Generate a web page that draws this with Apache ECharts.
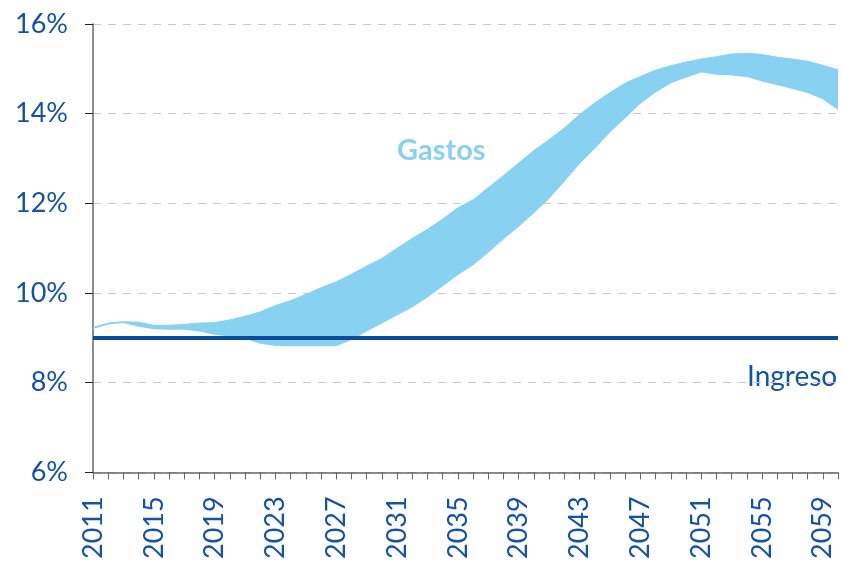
<!DOCTYPE html>
<html>
<head>
<meta charset="utf-8">
<script src="https://cdn.jsdelivr.net/npm/echarts@6/dist/echarts.min.js"></script>
<style>
  html, body { margin: 0; padding: 0; background: #fff; }
</style>
</head>
<body>
<div id="chart" style="width: 842px; height: 562px"></div>
<script>
// años 2011-2060
const years = ['2011','2012','2013','2014','2015','2016','2017','2018','2019','2020',
  '2021','2022','2023','2024','2025','2026','2027','2028','2029','2030',
  '2031','2032','2033','2034','2035','2036','2037','2038','2039','2040',
  '2041','2042','2043','2044','2045','2046','2047','2048','2049','2050',
  '2051','2052','2053','2054','2055','2056','2057','2058','2059','2060'];

// Gastos: límite inferior y superior de la banda (% del PIB)
const gastosMin = [9.20, 9.30, 9.33, 9.25, 9.19, 9.18, 9.18, 9.14, 9.07, 9.03,
  8.98, 8.87, 8.82, 8.81, 8.81, 8.81, 8.81, 8.95, 9.14, 9.32,
  9.50, 9.68, 9.90, 10.15, 10.40, 10.62, 10.90, 11.20, 11.48, 11.78,
  12.10, 12.48, 12.88, 13.22, 13.58, 13.90, 14.22, 14.47, 14.68, 14.80,
  14.92, 14.87, 14.85, 14.82, 14.72, 14.64, 14.55, 14.46, 14.32, 14.08];
const gastosMax = [9.23, 9.33, 9.36, 9.35, 9.28, 9.28, 9.30, 9.33, 9.34, 9.40,
  9.48, 9.58, 9.72, 9.83, 9.97, 10.12, 10.25, 10.42, 10.60, 10.77,
  11.00, 11.22, 11.42, 11.65, 11.90, 12.08, 12.35, 12.62, 12.90, 13.18,
  13.42, 13.68, 13.98, 14.24, 14.47, 14.68, 14.83, 14.97, 15.07, 15.15,
  15.22, 15.27, 15.33, 15.35, 15.32, 15.26, 15.22, 15.17, 15.08, 14.98];

// Ingreso constante
const ingreso = 9;

const yTicks = { min: 6, max: 16, interval: 2 };

const azul = '#1452a6';
const celeste = '#89d1f1';
const fuente = 'Lato';

let chart = echarts.init(document.getElementById('chart'));

chart.setOption({
  animation: false,
  grid: { left: 93, right: 4, top: 24, bottom: 89 },
  xAxis: {
    type: 'category',
    data: years,
    boundaryGap: false,
    axisLine: { lineStyle: { color: '#666', width: 1.5 } },
    axisTick: { interval: 0, length: 7, lineStyle: { color: '#666' } },
    axisLabel: {
      interval: 3,
      rotate: 90,
      margin: 24,
      color: azul,
      fontSize: 27,
      fontFamily: fuente
    },
    splitLine: { show: false }
  },
  yAxis: {
    type: 'value',
    min: yTicks.min,
    max: yTicks.max,
    interval: yTicks.interval,
    axisLine: { show: true, lineStyle: { color: '#666', width: 1.5 } },
    axisTick: { show: true, length: 8, lineStyle: { color: '#222' } },
    axisLabel: {
      formatter: '{value}%',
      margin: 25,
      color: azul,
      fontSize: 27,
      fontFamily: fuente
    },
    splitLine: { lineStyle: { color: '#c8c8c8', type: [8, 7], width: 1 } }
  },
  series: [
    {
      name: 'base',
      type: 'line',
      stack: 'gastos',
      data: gastosMin,
      symbol: 'none',
      lineStyle: { width: 0 },
      areaStyle: { opacity: 0 },
      silent: true
    },
    {
      name: 'Gastos',
      type: 'line',
      stack: 'gastos',
      data: gastosMax.map((v, i) => +(v - gastosMin[i]).toFixed(3)),
      symbol: 'none',
      lineStyle: { width: 1, color: celeste },
      areaStyle: { color: celeste, opacity: 1 },
      markLine: {
        silent: true,
        symbol: 'none',
        label: { show: false },
        lineStyle: { color: '#0b4c9f', width: 4, type: 'solid' },
        data: [{ yAxis: ingreso }]
      }
    }
  ],
  graphic: [
    {
      type: 'text',
      left: 397,
      top: 136,
      style: { text: 'Gastos', fill: celeste, font: 'bold 29px ' + fuente }
    },
    {
      type: 'text',
      left: 745,
      top: 363,
      style: {
        text: 'Ingreso', fill: azul, font: '28px ' + fuente,
        backgroundColor: '#fff', padding: [0, 2]
      }
    }
  ]
});
</script>
</body>
</html>
